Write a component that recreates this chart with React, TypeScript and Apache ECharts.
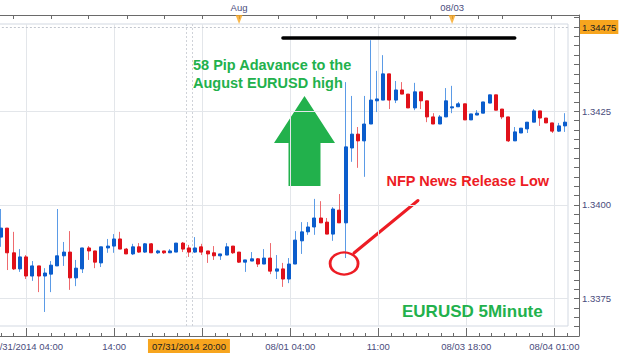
import React, { useEffect, useRef } from 'react';
import * as echarts from 'echarts';

// ---- data (5-minute EURUSD candles) ----
const candleOpen = [
  1.33914, 1.33938, 1.33872, 1.33829, 1.33861, 1.3381, 1.33837, 1.3381, 1.33815, 1.33837,
  1.33864, 1.33874, 1.33805, 1.33829, 1.33885, 1.33877, 1.33845, 1.33885, 1.3389, 1.33909,
  1.33882, 1.33869, 1.33888, 1.33874, 1.33896, 1.33872, 1.33877, 1.33872, 1.33874, 1.33898,
  1.33885, 1.33874, 1.33888, 1.33877, 1.33872, 1.33864, 1.33866, 1.3389, 1.33874, 1.33847,
  1.3385, 1.33856, 1.33842, 1.33858, 1.33823, 1.33829, 1.33802, 1.33842, 1.33904, 1.33928,
  1.33941, 1.33965, 1.33954, 1.33922, 1.33986, 1.33952, 1.34152, 1.34189, 1.34171, 1.34216,
  1.34278, 1.3428, 1.3435, 1.3428, 1.34307, 1.34296, 1.34259, 1.34302, 1.34278, 1.34235,
  1.34216, 1.34235, 1.34259, 1.34262, 1.3427, 1.34227, 1.3424, 1.34245, 1.34272, 1.34294,
  1.34256, 1.34235, 1.34171, 1.34192, 1.34203, 1.34221, 1.34251, 1.34232, 1.34219, 1.34197,
  1.34211,
];
const candleClose = [
  1.33938, 1.33872, 1.33829, 1.33861, 1.3381, 1.33837, 1.3381, 1.33818, 1.33839, 1.33864,
  1.33874, 1.33805, 1.33831, 1.33885, 1.33877, 1.33847, 1.33888, 1.3389, 1.33909, 1.33882,
  1.33869, 1.33888, 1.33874, 1.33896, 1.33872, 1.33877, 1.33872, 1.33877, 1.33898, 1.33882,
  1.33874, 1.33885, 1.33874, 1.33869, 1.33864, 1.33869, 1.33888, 1.33872, 1.33847, 1.33853,
  1.33856, 1.33842, 1.33858, 1.33823, 1.33829, 1.33802, 1.33842, 1.33906, 1.33928, 1.33941,
  1.33965, 1.33952, 1.33922, 1.33989, 1.33952, 1.34155, 1.34189, 1.34171, 1.34216, 1.3428,
  1.34283, 1.3435, 1.3428, 1.34307, 1.34296, 1.34259, 1.34302, 1.34278, 1.34235, 1.34216,
  1.34235, 1.34278, 1.34262, 1.3427, 1.34227, 1.34243, 1.34245, 1.34275, 1.34294, 1.34253,
  1.34235, 1.34171, 1.34195, 1.34205, 1.34221, 1.34251, 1.34232, 1.34219, 1.34197, 1.34211,
  1.34221,
];
const candleLow = [
  1.33888, 1.33826, 1.33826, 1.33821, 1.33802, 1.33797, 1.33767, 1.33714, 1.33767, 1.33837,
  1.33837, 1.33773, 1.33783, 1.33818, 1.33853, 1.33831, 1.33834, 1.33872, 1.33872, 1.33882,
  1.33869, 1.33866, 1.33872, 1.33872, 1.33872, 1.33869, 1.33869, 1.33872, 1.33874, 1.33874,
  1.33861, 1.33872, 1.33866, 1.33845, 1.33853, 1.33853, 1.33866, 1.33869, 1.33845, 1.33821,
  1.3385, 1.33834, 1.33842, 1.33815, 1.33802, 1.33781, 1.33791, 1.33842, 1.33869, 1.3392,
  1.3392, 1.33952, 1.33922, 1.33904, 1.33952, 1.33858, 1.34115, 1.34099, 1.34075, 1.34216,
  1.34248, 1.3428, 1.34256, 1.34272, 1.34296, 1.34259, 1.34253, 1.34256, 1.34221, 1.34216,
  1.34216, 1.34235, 1.34245, 1.34262, 1.34227, 1.34227, 1.3424, 1.34245, 1.34272, 1.34253,
  1.34229, 1.34168, 1.34171, 1.34192, 1.34192, 1.34221, 1.34211, 1.34219, 1.34192, 1.34195,
  1.34195,
];
const candleHigh = [
  1.33989, 1.33938, 1.33928, 1.33882, 1.33866, 1.3385, 1.33837, 1.33831, 1.3385, 1.33989,
  1.33901, 1.3393, 1.33853, 1.33885, 1.3389, 1.33877, 1.33888, 1.33909, 1.33922, 1.33928,
  1.33885, 1.33896, 1.33898, 1.33898, 1.33898, 1.3388, 1.33877, 1.33882, 1.33898, 1.33901,
  1.33893, 1.33914, 1.33896, 1.33877, 1.3389, 1.33869, 1.33898, 1.3389, 1.33874, 1.33853,
  1.33874, 1.33858, 1.33882, 1.33898, 1.33866, 1.33845, 1.33858, 1.3393, 1.33954, 1.33954,
  1.34016, 1.3401, 1.33965, 1.33994, 1.34029, 1.34328, 1.34291, 1.34208, 1.34291, 1.3444,
  1.34358, 1.344, 1.3435, 1.34331, 1.34328, 1.34296, 1.34326, 1.34302, 1.34278, 1.34245,
  1.3424, 1.34312, 1.34318, 1.34275, 1.3427, 1.34243, 1.34253, 1.34275, 1.34294, 1.34294,
  1.34256, 1.34235, 1.34208, 1.34205, 1.34221, 1.34256, 1.34251, 1.34232, 1.34219, 1.34219,
  1.34245,
];

// bottom time axis labels (one per major tick)
const timeLabels = ['07/31/2014 04:00', '14:00', '', '08/01 04:00', '11:00', '08/03 18:00', '08/04 01:00'];
// vertical grid lines, in candle-index units
const gridLinePos = [4, 18.05, 32.1, 46.15, 60.2, 74.25, 88.3];
// top axis ticks and session labels, in candle-index units
const topTickPos = [1.9, 8, 14, 20.1, 26.1, 32.1, 38, 44.3, 50.3, 55.2, 59.5, 64.3, 68.5, 72, 76.1, 80, 87.9];
const sessionPos = [38, 72];
const sessionLabels = ['Aug', '08/03'];
// right price axis labels
const priceLabels = [1.3375, 1.34, 1.3425];
const lastPrice = 1.34475;
const augustHigh = 1.34447;
const highLineFrom = 45;
const highLineTo = 82;
const nfpIndex = 55;
const crosshairIndex = 30;
const crosshairLabel = '07/31/2014 20:00';

const FONT = '"Liberation Sans", Arial, sans-serif';
const BLUE = '#0b5dcc';
const RED_C = '#e0111a';
const BLUE_W = '#5b9be6';
const RED_W = '#ee6a6e';
const AXIS = '#6a6a6a';
const LABEL = '#4a4c7c';
const GRID = '#e3e6ea';
const ORANGE = '#f7a51e';
const GREEN = '#22b14c';
const RED = '#ed1c24';
const PRICE_AXIS_MAX = 1.34507;

export default function App() {
  const ref = useRef<HTMLDivElement>(null);
  useEffect(() => {
    const chart = echarts.init(ref.current as HTMLDivElement, undefined, { renderer: 'svg' });
    const cats = candleOpen.map((_, i) => String(i));
    const wickData = candleOpen.map((o, i) => [o, candleClose[i], candleLow[i], candleHigh[i]]);
    const bodyData = candleOpen.map((o, i) => [
      o,
      candleClose[i],
      Math.min(o, candleClose[i]),
      Math.max(o, candleClose[i]),
    ]);

    const option: any = {
      animation: false,
      backgroundColor: '#ffffff',
      textStyle: { fontFamily: FONT },
      grid: [
        { left: -2.13, top: 24, width: 570.13, height: 302, show: true, borderColor: '#d3d9e2', borderWidth: 1, backgroundColor: 'rgba(0,0,0,0)', containLabel: false, outerBoundsMode: 'none' },
        { left: -61.95, top: 15, width: 640.95, height: 321, show: false, containLabel: false, outerBoundsMode: 'none' },
      ],
      xAxis: [
        { type: 'category', gridIndex: 0, data: cats, show: false, boundaryGap: true },
        {
          type: 'value', gridIndex: 0, min: -0.5, max: 90.5, position: 'bottom',
          axisLine: { show: false, onZero: false },
          axisTick: { show: false, customValues: gridLinePos },
          axisLabel: { show: false },
          splitLine: { show: true, lineStyle: { color: GRID, width: 1 } },
        },
        {
          type: 'value', gridIndex: 1, position: 'bottom', min: -7, max: 43.96, interval: 1,
          axisLine: { show: true, onZero: false, lineStyle: { color: AXIS } },
          axisTick: { show: true, inside: true, length: 3, lineStyle: { color: AXIS } },
          axisLabel: { show: false },
          splitLine: { show: false },
        },
        {
          type: 'value', gridIndex: 1, position: 'bottom', min: -7, max: 43.96, interval: 7,
          axisLine: { show: false, onZero: false },
          axisTick: { show: true, inside: true, length: 8, lineStyle: { color: AXIS } },
          axisLabel: {
            show: true, margin: 5, color: LABEL, fontSize: 9.5, fontFamily: FONT,
            formatter: (v: number) => {
              const k = Math.round(v / 7);
              if (Math.abs(v - k * 7) < 1e-6 && k >= 0 && k < timeLabels.length) return timeLabels[k];
              return '';
            },
          },
          splitLine: { show: false },
        },
        {
          type: 'value', gridIndex: 1, position: 'top', min: -10.048, max: 92.26,
          axisLine: { show: true, onZero: false, lineStyle: { color: AXIS } },
          axisTick: { show: true, inside: true, length: 4, lineStyle: { color: AXIS }, customValues: topTickPos },
          axisLabel: {
            show: true, margin: 3, color: LABEL, fontSize: 9.5, fontFamily: FONT, customValues: sessionPos,
            formatter: (v: number) => {
              const k = sessionPos.findIndex((p) => Math.abs(p - v) < 1e-6);
              return k >= 0 ? sessionLabels[k] : '';
            },
          },
          splitLine: { show: false },
        },
      ],
      yAxis: [
        {
          type: 'value', gridIndex: 0, min: 1.336765, max: 1.344832,
          axisLine: { show: false, onZero: false },
          axisTick: { show: false, customValues: priceLabels },
          axisLabel: { show: false },
          splitLine: { show: true, lineStyle: { color: GRID, width: 1 } },
        },
        {
          type: 'value', gridIndex: 1, position: 'right', min: 1.3365, max: PRICE_AXIS_MAX, interval: 0.00025,
          axisLine: { show: true, onZero: false, lineStyle: { color: AXIS } },
          axisTick: { show: true, inside: true, length: 5, lineStyle: { color: AXIS } },
          axisLabel: {
            show: true, margin: 3, color: LABEL, fontSize: 9.5, fontFamily: FONT,
            formatter: (v: number) => (priceLabels.some((p) => Math.abs(p - v) < 1e-7) ? v.toFixed(4) : ''),
          },
          splitLine: { show: false },
        },
      ],
      series: [
        {
          name: 'wicks', type: 'candlestick', xAxisIndex: 0, yAxisIndex: 0, data: wickData, barWidth: 1, silent: true,
          itemStyle: { color: BLUE_W, color0: RED_W, borderColor: BLUE_W, borderColor0: RED_W, borderWidth: 1 },
        },
        {
          name: 'bodies', type: 'candlestick', xAxisIndex: 0, yAxisIndex: 0, data: bodyData, barWidth: 3.5, silent: true,
          itemStyle: { color: BLUE, color0: RED_C, borderColor: BLUE, borderColor0: RED_C, borderWidth: 1 },
          markLine: {
            symbol: 'none', silent: true, precision: 5,
            data: [
              [
                { coord: [highLineFrom, augustHigh], lineStyle: { color: '#000', width: 3.5, type: 'solid', cap: 'round' }, label: { show: false } },
                { coord: [highLineTo, augustHigh] },
              ],
            ],
          },
          markPoint: {
            silent: true,
            data: [
              {
                coord: [nfpIndex, candleLow[nfpIndex]], symbol: 'circle', symbolSize: [28, 22], symbolOffset: [-1.5, 5.5],
                itemStyle: { color: 'rgba(0,0,0,0)', borderColor: RED, borderWidth: 2.5 },
                label: { show: false },
              },
            ],
          },
        },
        {
          name: 'markers', type: 'line', xAxisIndex: 1, yAxisIndex: 0, data: [], silent: true,
          markLine: {
            symbol: 'none', silent: true, precision: 5,
            data: [
              {
                yAxis: lastPrice,
                lineStyle: { type: [2, 2], color: '#c2c6ce', width: 1 },
                label: {
                  show: true, position: 'end', distance: 12, formatter: lastPrice.toFixed(5),
                  backgroundColor: ORANGE, color: '#222', padding: [2, 2], fontSize: 9.5, fontFamily: FONT,
                },
              },
              { xAxis: crosshairIndex - 0.5, lineStyle: { type: [2, 2], color: '#cfd2d8', width: 1 }, label: { show: false } },
              { xAxis: crosshairIndex + 0.5, lineStyle: { type: [2, 2], color: '#cfd2d8', width: 1 }, label: { show: false } },
              {
                xAxis: crosshairIndex, lineStyle: { color: 'rgba(0,0,0,0)', width: 0 },
                label: {
                  show: true, position: 'start', distance: 13, formatter: crosshairLabel, opacity: 1,
                  backgroundColor: ORANGE, color: '#222', padding: [2, 4], fontSize: 9.5, fontFamily: FONT,
                },
              },
            ],
          },
        },
        {
          name: 'sessions', type: 'scatter', xAxisIndex: 4, yAxisIndex: 1, silent: true, clip: false,
          data: sessionPos.map((p) => [p, PRICE_AXIS_MAX]),
          symbol: 'path://M0 0L8 0L4 10Z', symbolSize: [7, 9], symbolOffset: [0, 4.5],
          itemStyle: { color: ORANGE },
        },
      ],
      graphic: [
        {
          type: 'text', x: 193, y: 56.5, silent: true, z: 10,
          style: { text: '58 Pip Adavance to the\nAugust EURUSD high', fill: GREEN, fontSize: 14.5, fontWeight: 'bold', fontFamily: FONT, lineHeight: 17.7, verticalAlign: 'top' },
        },
        {
          type: 'polygon', silent: true,
          shape: { points: [[304.5, 96], [335, 143], [320.5, 143], [320.5, 186], [288.5, 186], [288.5, 143], [274, 143]] },
          style: { fill: GREEN },
        },
        {
          type: 'text', x: 386.5, y: 172.5, silent: true, z: 10,
          style: { text: 'NFP News Release Low', fill: RED, fontSize: 14.5, fontWeight: 'bold', fontFamily: FONT, lineHeight: 17, verticalAlign: 'top' },
        },
        {
          type: 'line', silent: true,
          shape: { x1: 354, y1: 253, x2: 418, y2: 200.5 },
          style: { stroke: RED, lineWidth: 3, lineCap: 'round' },
        },
        {
          type: 'text', x: 402, y: 302, silent: true, z: 10,
          style: { text: 'EURUSD 5Minute', fill: GREEN, fontSize: 17, fontWeight: 'bold', fontFamily: FONT, lineHeight: 18, verticalAlign: 'top' },
        },
      ],
    };
    chart.setOption(option);
    return () => chart.dispose();
  }, []);
  return <div ref={ref} style={{ position: 'fixed', left: 0, top: 0, width: 624, height: 355, background: '#fff' }} />;
}
